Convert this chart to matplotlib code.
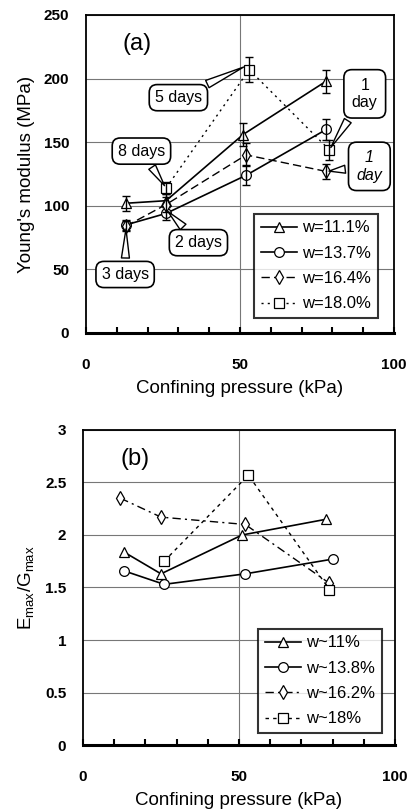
import matplotlib
matplotlib.use("Agg")
from matplotlib import pyplot as plt

plt.rcParams['font.family'] = ['Liberation Sans', 'DejaVu Sans']

# panel (a): Young's modulus vs confining pressure
a_x_111 = [13, 26, 51, 78]
a_y_111 = [102, 104, 156, 198]
a_e_111 = [6, 5, 9, 9]
a_x_137 = [13, 26, 52, 78]
a_y_137 = [85, 94, 124, 160]
a_e_137 = [4, 5, 8, 8]
a_x_164 = [13, 26, 52, 78]
a_y_164 = [84, 101, 140, 127]
a_e_164 = [4, 6, 9, 6]
a_x_180 = [26, 53, 79]
a_y_180 = [114, 207, 144]
a_e_180 = [5, 10, 8]

# panel (b): Emax/Gmax vs confining pressure
b_x_11 = [13, 25, 51, 78]
b_y_11 = [1.84, 1.63, 2.0, 2.15]
b_x_138 = [13, 26, 52, 80]
b_y_138 = [1.66, 1.53, 1.63, 1.77]
b_x_162 = [12, 25, 52, 79]
b_y_162 = [2.35, 2.17, 2.1, 1.54]
b_x_18 = [26, 53, 79]
b_y_18 = [1.75, 2.57, 1.48]

a_labels = ["w=11.1%", "w=13.7%", "w=16.4%", "w=18.0%"]
b_labels = ["w~11%", "w~13.8%", "w~16.2%", "w~18%"]

styles = [("-", "^"), ("-", "o"), ((0, (6, 3)), "d"), ((0, (1.5, 3)), "s")]
b_styles = [("-", "^"), ("-", "o"), ((0, (6, 3, 1.5, 3)), "d"), ((0, (2.5, 3)), "s")]


def style_axes(ax, ymax, ystep, ylabel, tag):
    ax.set_xlim(0, 100)
    ax.set_ylim(0, ymax)
    ax.set_xticks(range(0, 101, 10))
    ax.set_xticklabels(["0", "", "", "", "", "50", "", "", "", "", "100"],
                       fontsize=11, fontweight='bold')
    ax.tick_params(axis='x', direction='in', length=4, width=1.5, pad=18)
    yt = [i * ystep for i in range(int(round(ymax / ystep)) + 1)]
    ax.set_yticks(yt)
    ax.set_yticklabels([("%g" % v) for v in yt], fontsize=11, fontweight='bold')
    ax.tick_params(axis='y', length=0, pad=12)
    ax.yaxis.grid(True, color="#777777", lw=0.8)
    ax.axvline(50, color="#777777", lw=0.8, zorder=0)
    for s in ['left', 'right', 'top']:
        ax.spines[s].set_linewidth(1.3)
    ax.spines['bottom'].set_linewidth(2.2)
    ax.set_xlabel("Confining pressure (kPa)", fontsize=13.5, labelpad=6)
    ax.set_ylabel(ylabel, fontsize=13.5, labelpad=6)
    ax.text(12, ymax * 0.89, tag, fontsize=17)


def add_legend(ax, anchor):
    leg = ax.legend(loc="lower right", bbox_to_anchor=anchor, borderaxespad=0,
                    fontsize=12, frameon=True, fancybox=False, edgecolor="black",
                    handlelength=2.2, handletextpad=0.3, borderpad=0.4,
                    labelspacing=0.62)
    leg.get_frame().set_linewidth(1.5)


fig = plt.figure(figsize=(4.14, 8.10), dpi=100)
ax1 = fig.add_axes([0.2077, 0.5889, 0.744, 0.3926])
ax2 = fig.add_axes([0.2005, 0.0802, 0.7536, 0.389])

a_series = [(a_x_111, a_y_111, a_e_111), (a_x_137, a_y_137, a_e_137),
            (a_x_164, a_y_164, a_e_164), (a_x_180, a_y_180, a_e_180)]
for (x, y, e), (ls, m), lab in zip(a_series, styles, a_labels):
    lw = 1.0 if ls != "-" else 1.2
    ax1.plot(x, y, color="black", ls=ls, lw=lw, marker=m, markersize=7,
             mfc="white", mec="black", mew=0.9, label=lab)
    ax1.errorbar(x, y, yerr=e, fmt="none", ecolor="black", elinewidth=1, capsize=3)

style_axes(ax1, 250, 50, "Young's modulus (MPa)", "(a)")
add_legend(ax1, (0.948, 0.047))

box = dict(boxstyle="round,pad=0.35,rounding_size=0.5", fc="white", ec="black", lw=1.2)
box_tall = dict(boxstyle="round,pad=0.5,rounding_size=0.5", fc="white", ec="black", lw=1.2)
arr = dict(arrowstyle="wedge,tail_width=0.5", fc="white", ec="black", lw=1.0)
notes = [("5 days", 52, 210, 30, 185, "normal", box),
         ("8 days", 26, 114, 18, 143, "normal", box),
         ("1\nday", 79, 144, 90.5, 188, "normal", box_tall),
         ("1\nday", 78, 127, 92, 131, "italic", box_tall),
         ("2 days", 26, 97, 36.5, 71, "normal", box),
         ("3 days", 13, 84, 12.7, 46, "normal", box)]
for txt, px, py, tx, ty, st, bb in notes:
    ax1.annotate(txt, xy=(px, py), xytext=(tx, ty), fontsize=11.5, style=st,
                 ha="center", va="center", bbox=bb, arrowprops=arr, zorder=5)

b_series = [(b_x_11, b_y_11), (b_x_138, b_y_138), (b_x_162, b_y_162), (b_x_18, b_y_18)]
for (x, y), (ls, m), lab in zip(b_series, b_styles, b_labels):
    lw = 1.0 if ls != "-" else 1.2
    ax2.plot(x, y, color="black", ls=ls, lw=lw, marker=m, markersize=7,
             mfc="white", mec="black", mew=0.9, label=lab)

style_axes(ax2, 3, 0.5, r"E$_\mathregular{max}$/G$_\mathregular{max}$", "(b)")
add_legend(ax2, (0.958, 0.038))

fig.savefig("out.png", dpi=100)
